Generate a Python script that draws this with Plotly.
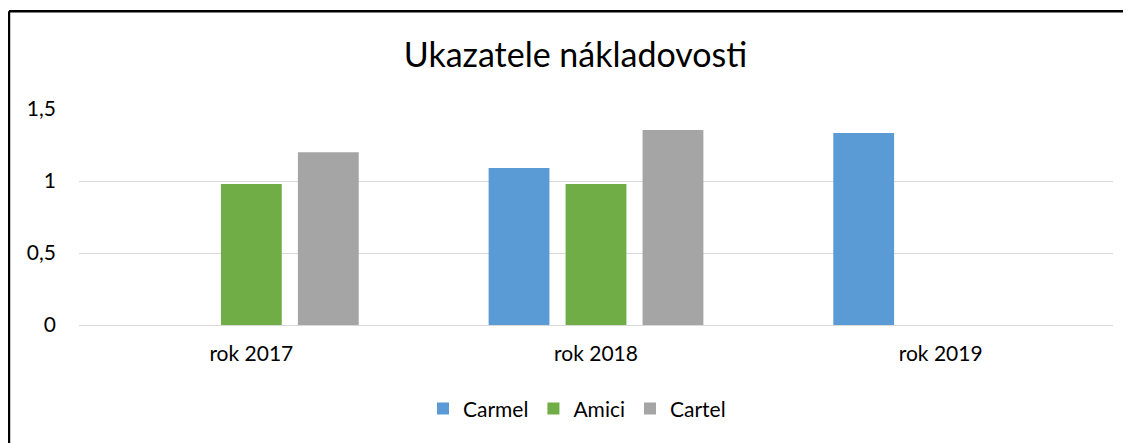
import plotly.graph_objects as go

categories = ["rok 2017", "rok 2018", "rok 2019"]
carmel = [None, 1.09, 1.333]
amici = [0.98, 0.98, None]
cartel = [1.20, 1.354, None]
series_names = ["Carmel", "Amici", "Cartel"]
colors = ["#5B9BD5", "#70AD47", "#A5A5A5"]
y_ticks = [0, 0.5, 1, 1.5]

# page body has an 8px margin: work in figure pixels = window pixels - 8
OFF = 8
W, H = 1131, 443
ML, MT = 79 - OFF, 108.5 - OFF
MR = (W + OFF) - 1112.6
MB = (H + OFF) - 325
FONT = "Lato, Carlito, Calibri, sans-serif"

fig = go.Figure()
for name, vals, col in zip(series_names, [carmel, amici, cartel], colors):
    fig.add_trace(go.Bar(name=name, x=categories, y=vals, marker_color=col,
                         marker_line_width=0))

pw = W - ML - MR
ph = H - MT - MB
def px_x(p):  # window pixel -> paper
    return (p - OFF - ML) / pw
def px_y(p):
    return (H - MB - (p - OFF)) / ph

fig.update_layout(
    width=W, height=H,
    margin=dict(l=ML, r=MR, t=MT, b=MB),
    paper_bgcolor="white", plot_bgcolor="white",
    separators=", ",
    barmode="group", bargap=0.33, bargroupgap=0.21,
    font=dict(family=FONT, color="#000000", size=21),
    title=dict(text="Ukazatele nákladovosti", x=(575.5 - OFF) / W, xanchor="center",
               y=1 - (55 - OFF) / H, yanchor="middle",
               font=dict(family=FONT, size=34, color="#000000")),
    legend=dict(orientation="h", x=0.5 - 19 / pw, xanchor="center", y=px_y(409),
                yanchor="middle", font=dict(size=21), itemwidth=30,
                traceorder="normal"),
    xaxis=dict(showgrid=False, showline=False, zeroline=False,
               ticks="", ticklabelstandoff=14, tickfont=dict(size=21)),
    yaxis=dict(range=[0, 1.5], tickvals=y_ticks, showgrid=True,
               gridcolor="#D9D9D9", gridwidth=1.3, zeroline=True,
               zerolinecolor="#D9D9D9", zerolinewidth=1.3, showline=False,
               ticks="", ticklabelstandoff=22, tickfont=dict(size=21)),
    shapes=[
        dict(type="line", xref="paper", yref="paper", x0=px_x(9), x1=px_x(W + 20),
             y0=px_y(10.5), y1=px_y(10.5), line=dict(color="black", width=2.5)),
        dict(type="line", xref="paper", yref="paper", x0=px_x(9), x1=px_x(9),
             y0=px_y(10.5), y1=px_y(H + 20), line=dict(color="black", width=2.5)),
    ],
    showlegend=True,
)

fig.write_html("out.html")
